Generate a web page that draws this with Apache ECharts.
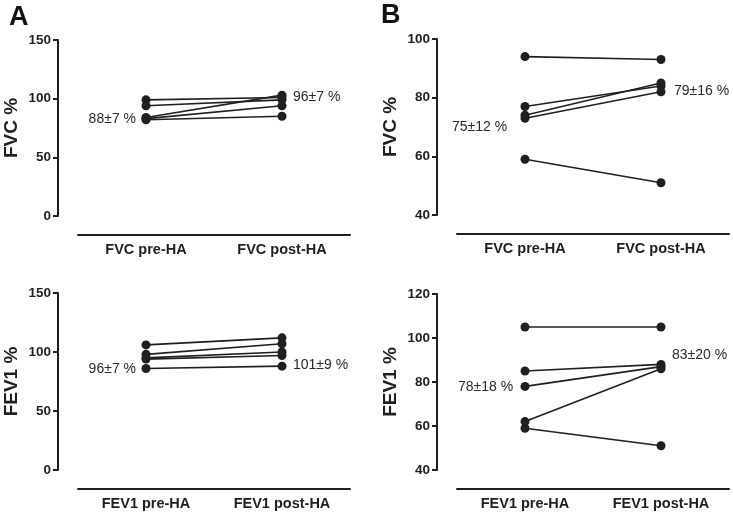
<!DOCTYPE html>
<html>
<head>
<meta charset="utf-8">
<script src="https://cdn.jsdelivr.net/npm/echarts@6/dist/echarts.min.js"></script>
<style>html,body{margin:0;padding:0;background:#fff}#c{width:733px;height:516px}</style>
</head>
<body>
<div id="c"></div>
<script>
// Categories
const catFVC = ['FVC pre-HA', 'FVC post-HA'];
const catFEV1 = ['FEV1 pre-HA', 'FEV1 post-HA'];
// Panel A (FVC)
const aFvcPre  = [99, 94, 84, 83, 82];
const aFvcPost = [101, 99, 103, 94, 85];
// Panel A (FEV1)
const aFev1Pre  = [106, 98, 95, 94, 86];
const aFev1Post = [112, 107, 100, 97, 88];
// Panel B (FVC)
const bFvcPre  = [94, 77, 74, 73, 59];
const bFvcPost = [93, 84, 85, 82, 51];
// Panel B (FEV1)
const bFev1Pre  = [105, 85, 78, 62, 59];
const bFev1Post = [105, 88, 87, 86, 51];
// Y axis ranges / ticks
const aTicks = {min: 0, max: 150, interval: 50};
const bFvcTicks = {min: 40, max: 100, interval: 20};
const bFev1Ticks = {min: 40, max: 120, interval: 20};
// Summary annotations
const annotations = ['88±7 %', '96±7 %', '75±12 %', '79±16 %', '96±7 %', '101±9 %', '78±18 %', '83±20 %'];

const FONT = '"Liberation Sans", Arial, Helvetica, sans-serif';
const INK = '#1f1f1f';

const grids = [
  {left: 78, width: 272, top: 40, height: 176},
  {left: 457, width: 272, top: 39, height: 176},
  {left: 78, width: 272, top: 293, height: 177},
  {left: 457, width: 272, top: 294, height: 176}
];
const cats = [catFVC, catFVC, catFEV1, catFEV1];
const ranges = [aTicks, bFvcTicks, aTicks, bFev1Ticks];
const names = ['FVC %', 'FVC %', 'FEV1 %', 'FEV1 %'];
const data = [[aFvcPre, aFvcPost], [bFvcPre, bFvcPost], [aFev1Pre, aFev1Post], [bFev1Pre, bFev1Post]];

const xAxis = cats.map((c, i) => ({
  type: 'category', gridIndex: i, data: c, boundaryGap: true, offset: 19,
  axisLine: {onZero: false, lineStyle: {color: INK, width: 2}},
  axisTick: {alignWithLabel: true, length: 5, lineStyle: {color: INK, width: 2}},
  axisLabel: {color: INK, fontFamily: FONT, fontWeight: 'bold', fontSize: 14.5, margin: 7}
}));
const yAxis = ranges.map((r, i) => ({
  type: 'value', gridIndex: i, min: r.min, max: r.max, interval: r.interval, offset: 20,
  name: names[i], nameLocation: 'middle', nameGap: 37, nameRotate: 90,
  nameTextStyle: {color: INK, fontFamily: FONT, fontWeight: 'bold', fontSize: 19},
  splitLine: {show: false},
  axisLine: {show: true, onZero: false, lineStyle: {color: INK, width: 2}},
  axisTick: {show: true, length: 5, lineStyle: {color: INK, width: 2}},
  axisLabel: {color: INK, fontFamily: FONT, fontWeight: 'bold', fontSize: 13.5, margin: 7}
}));

const series = [];
data.forEach((d, g) => {
  const pre = d[0], post = d[1];
  for (let k = 0; k < pre.length; k++) {
    series.push({
      type: 'line', xAxisIndex: g, yAxisIndex: g,
      data: [pre[k], post[k]],
      symbol: 'circle', symbolSize: 9, showAllSymbol: true,
      lineStyle: {color: INK, width: 1.6},
      itemStyle: {color: INK},
      emphasis: {disabled: true}, silent: true
    });
  }
});

const annPos = [
  {x: 136, y: 119, align: 'right'},
  {x: 293, y: 97, align: 'left'},
  {x: 452, y: 127, align: 'left'},
  {x: 674, y: 91, align: 'left'},
  {x: 136, y: 369, align: 'right'},
  {x: 293, y: 365, align: 'left'},
  {x: 458, y: 387, align: 'left'},
  {x: 672, y: 355, align: 'left'}
];
const graphic = annotations.map((t, i) => ({
  type: 'text', x: annPos[i].x, y: annPos[i].y,
  style: {text: t, fill: '#2a2a2a', font: '14px ' + FONT, textAlign: annPos[i].align, textVerticalAlign: 'middle'}
}));
graphic.push({type: 'text', x: 9, y: 18, style: {text: 'A', fill: '#111', font: 'bold 27px ' + FONT, textVerticalAlign: 'middle'}});
graphic.push({type: 'text', x: 381, y: 16, style: {text: 'B', fill: '#111', font: 'bold 27px ' + FONT, textVerticalAlign: 'middle'}});

const chart = echarts.init(document.getElementById('c'), null, {renderer: 'canvas'});
chart.setOption({
  animation: false,
  backgroundColor: '#fff',
  grid: grids,
  xAxis: xAxis,
  yAxis: yAxis,
  series: series,
  graphic: graphic
});
</script>
</body>
</html>
